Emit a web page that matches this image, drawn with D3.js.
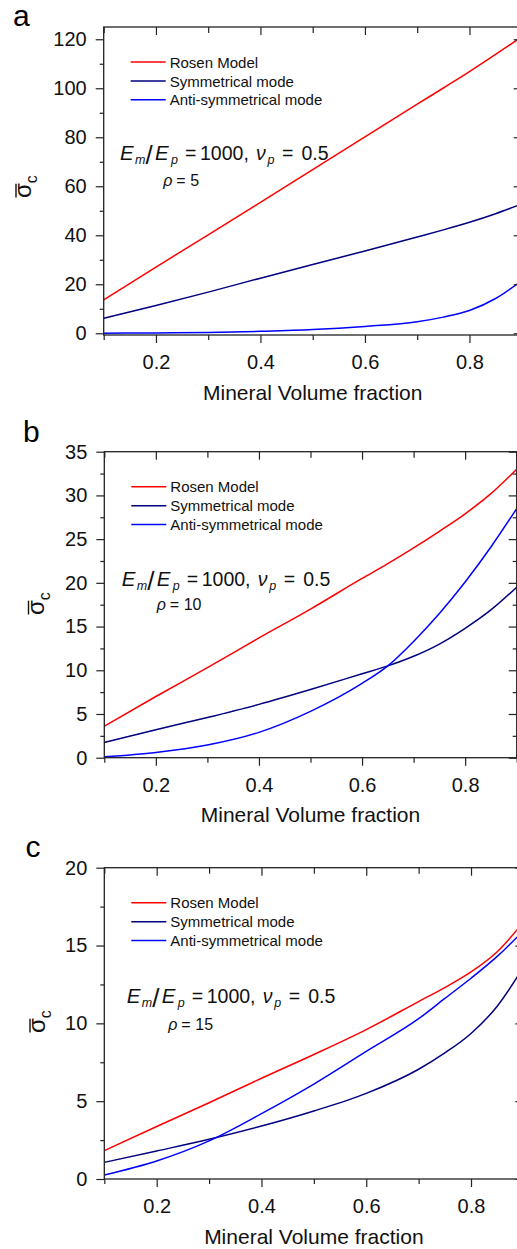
<!DOCTYPE html>
<html>
<head>
<meta charset="utf-8">
<script src="https://cdn.jsdelivr.net/npm/d3@7"></script>
<style>
  html, body { margin: 0; padding: 0; background: #fff; }
  svg { display: block; font-family: "Liberation Sans", Arial, Helvetica, sans-serif; }
</style>
</head>
<body>
<svg id="fig" width="517" height="1249"></svg>
<script>
// Normalised critical stress vs. mineral volume fraction, three aspect ratios (rho = 5, 10, 15)

const seriesNames  = ["Rosen Model", "Symmetrical mode", "Anti-symmetrical mode"];
const seriesColors = ["#ff0000", "#000080", "#0000ff"];

// panel a : rho = 5
const fractionA = [0.1, 0.2, 0.3, 0.4, 0.5, 0.6, 0.7, 0.75, 0.8, 0.85, 0.9];
const rosenA    = [13.6, 27.0, 40.2, 53.4, 66.8, 80.2, 93.5, 100.1, 106.8, 113.8, 121.0];
const symA      = [6.1, 11.3, 16.8, 22.5, 28.1, 33.6, 39.3, 42.2, 45.3, 48.8, 52.8];
const antiA     = [0.05, 0.15, 0.35, 0.8, 1.5, 2.8, 4.7, 6.6, 9.3, 14.2, 21.5];

// panel b : rho = 10
const fractionB = [0.1, 0.2, 0.3, 0.4, 0.5, 0.6, 0.65, 0.7, 0.75, 0.8, 0.85, 0.9];
const rosenB    = [3.6, 7.0, 10.3, 13.7, 17.0, 20.5, 22.2, 24.0, 25.9, 27.9, 30.2, 33.0];
const symB      = [1.75, 3.2, 4.6, 6.1, 7.8, 9.6, 10.5, 11.6, 13.0, 14.8, 16.9, 19.5];
const antiB     = [0.1, 0.6, 1.45, 2.9, 5.3, 8.5, 10.5, 13.3, 16.5, 20.1, 24.1, 28.5];

// panel c : rho = 15
const fractionC = [0.1, 0.2, 0.3, 0.4, 0.5, 0.6, 0.7, 0.75, 0.8, 0.85, 0.9];
const rosenC    = [1.82, 3.37, 4.9, 6.47, 8.0, 9.6, 11.4, 12.3, 13.3, 14.6, 16.5];
const symC      = [1.07, 1.8, 2.55, 3.4, 4.37, 5.5, 7.05, 8.1, 9.35, 11.1, 13.6];
const antiC     = [0.26, 1.16, 2.45, 4.2, 6.1, 8.2, 10.3, 11.6, 12.9, 14.3, 15.95];

// tick values
const xMajorTicks = [0.2, 0.4, 0.6, 0.8];
const xMinorTicks = [0.1, 0.3, 0.5, 0.7, 0.9];
const yMajorA = [0, 20, 40, 60, 80, 100, 120];
const yMinorA = [10, 30, 50, 70, 90, 110];
const yMajorB = [0, 5, 10, 15, 20, 25, 30, 35];
const yMinorB = [2.5, 7.5, 12.5, 17.5, 22.5, 27.5, 32.5];
const yMajorC = [0, 5, 10, 15, 20];
const yMinorC = [2.5, 7.5, 12.5, 17.5];

const panelLabels = ["a", "b", "c"];
const rhoValues   = ["5", "10", "15"];
const xTitle = "Mineral Volume fraction";

// page layout of the three stacked panels
const layout = [
  { box: { left: 103.7, right: 521.7, top: 27,    bottom: 335  }, yDomain: [-0.7, 125],
    tag: [13, 26],    ann: [120, 160],   rho: [163.3, 185.5], ylab: [31, 198] },
  { box: { left: 104.3, right: 516.7, top: 451.7, bottom: 757.7 }, yDomain: [0, 35],
    tag: [23, 442],   ann: [121.7, 586], rho: [156.7, 609.5], ylab: [43.5, 615] },
  { box: { left: 104.3, right: 523.4, top: 867.7, bottom: 1179 }, yDomain: [0, 20],
    tag: [25.5, 857], ann: [126.7, 1002.7], rho: [168.3, 1030], ylab: [45, 1033] }
];

const panelData = [
  { x: fractionA, ys: [rosenA, symA, antiA], yMajor: yMajorA, yMinor: yMinorA },
  { x: fractionB, ys: [rosenB, symB, antiB], yMajor: yMajorB, yMinor: yMinorB },
  { x: fractionC, ys: [rosenC, symC, antiC], yMajor: yMajorC, yMinor: yMinorC }
];

const AXIS = "#222";
const INK = "#111";
const svg = d3.select("#fig");

function styleAxis(sel, fontSize) {
  sel.attr("font-family", null).attr("font-size", fontSize);
  sel.select(".domain").remove();
  sel.selectAll(".tick line").attr("stroke", AXIS).attr("stroke-width", 1.2);
  sel.selectAll(".tick text").attr("fill", INK);
}

function drawAnnotation(g, x0, y0) {
  // E_m / E_p = 1000,  nu_p =  0.5
  const parts = [
    [0,     0, 20.5, true,  "E"],
    [15,    4, 12.5, true,  "m"],
    [25.5,  4, 26,   false, "/"],
    [35,    0, 20.5, true,  "E"],
    [51,    4, 12.5, true,  "p"],
    [65,    0, 19.5, false, "="],
    [80,    0, 19.5, false, "1000,"],
    [136,   0, 19.5, true,  "\u03BD"],
    [147.5, 4, 12.5, true,  "p"],
    [162,   0, 19.5, false, "="],
    [181.5, 0, 19.5, false, "0.5"]
  ];
  const t = g.append("text").attr("fill", INK);
  parts.forEach(([dx, dy, fs, it, s]) => {
    t.append("tspan")
      .attr("x", x0 + dx).attr("y", y0 + dy)
      .attr("font-size", fs)
      .attr("font-style", it ? "italic" : "normal")
      .text(s);
  });
}

function drawRho(g, x0, y0, val) {
  const t = g.append("text").attr("fill", INK).attr("font-size", 16);
  t.append("tspan").attr("x", x0).attr("y", y0).attr("font-style", "italic").text("\u03C1");
  t.append("tspan").attr("x", x0 + 13).attr("y", y0).text("=");
  t.append("tspan").attr("x", x0 + 27).attr("y", y0).text(val);
}

function drawYLabel(g, x0, y0) {
  const lg = g.append("g").attr("transform", `translate(${x0},${y0}) rotate(-90)`);
  const t = lg.append("text").attr("fill", INK);
  const sig = t.append("tspan").attr("font-size", 24).text("\u03C3");
  t.append("tspan").attr("font-size", 16).attr("dy", 6).text("c");
  const w = sig.node().getComputedTextLength();
  lg.append("line")
    .attr("x1", 0.5).attr("x2", w - 0.5)
    .attr("y1", -15).attr("y2", -15)
    .attr("stroke", INK).attr("stroke-width", 1.4);
}

panelData.forEach((pd, i) => {
  const L = layout[i];
  const b = L.box;
  const g = svg.append("g");

  const x = d3.scaleLinear().domain([0.1, 0.9]).range([b.left, b.right]);
  const y = d3.scaleLinear().domain(L.yDomain).range([b.bottom, b.top]);

  // curves
  const line = d3.line()
    .x(d => x(d[0]))
    .y(d => y(d[1]))
    .curve(d3.curveMonotoneX);
  pd.ys.forEach((vals, k) => {
    g.append("path")
      .datum(pd.x.map((v, j) => [v, vals[j]]))
      .attr("d", line)
      .attr("fill", "none")
      .attr("stroke", seriesColors[k])
      .attr("stroke-width", 1.5);
  });

  // bottom axis
  g.append("g").attr("transform", `translate(0,${b.bottom})`)
    .call(d3.axisBottom(x).tickValues(xMajorTicks).tickSize(8).tickPadding(12).tickFormat(d3.format(".1f")))
    .call(s => styleAxis(s, 20));
  g.append("g").attr("transform", `translate(0,${b.bottom})`)
    .call(d3.axisBottom(x).tickValues(xMinorTicks).tickSize(5).tickFormat(""))
    .call(s => styleAxis(s, 20));
  // top axis, ticks pointing in
  g.append("g").attr("transform", `translate(0,${b.top})`)
    .call(d3.axisTop(x).tickValues(xMajorTicks).tickSize(-8).tickFormat(""))
    .call(s => styleAxis(s, 20));
  g.append("g").attr("transform", `translate(0,${b.top})`)
    .call(d3.axisTop(x).tickValues(xMinorTicks).tickSize(-6).tickFormat(""))
    .call(s => styleAxis(s, 20));

  // left axis
  g.append("g").attr("transform", `translate(${b.left},0)`)
    .call(d3.axisLeft(y).tickValues(pd.yMajor).tickSize(8).tickPadding(9).tickFormat(d3.format("d")))
    .call(s => styleAxis(s, 20));
  g.append("g").attr("transform", `translate(${b.left},0)`)
    .call(d3.axisLeft(y).tickValues(pd.yMinor).tickSize(4).tickFormat(""))
    .call(s => styleAxis(s, 20));
  // right axis, ticks pointing in
  g.append("g").attr("transform", `translate(${b.right},0)`)
    .call(d3.axisRight(y).tickValues(pd.yMajor).tickSize(-8).tickFormat(""))
    .call(s => styleAxis(s, 20));
  g.append("g").attr("transform", `translate(${b.right},0)`)
    .call(d3.axisRight(y).tickValues(pd.yMinor).tickSize(-4).tickFormat(""))
    .call(s => styleAxis(s, 20));

  // frame
  g.append("rect")
    .attr("x", b.left).attr("y", b.top)
    .attr("width", b.right - b.left).attr("height", b.bottom - b.top)
    .attr("fill", "none").attr("stroke", AXIS).attr("stroke-width", 1.3);

  // legend
  const rows = [35, 54, 72.7];
  seriesNames.forEach((name, k) => {
    const ly = b.top + rows[k];
    g.append("line")
      .attr("x1", b.left + 27).attr("x2", b.left + 62)
      .attr("y1", ly).attr("y2", ly)
      .attr("stroke", seriesColors[k]).attr("stroke-width", 1.5);
    g.append("text")
      .attr("x", b.left + 66).attr("y", ly + 5.5)
      .attr("font-size", 15).attr("fill", INK)
      .text(name);
  });

  drawAnnotation(g, L.ann[0], L.ann[1]);
  drawRho(g, L.rho[0], L.rho[1], rhoValues[i]);

  // axis titles
  g.append("text")
    .attr("x", (b.left + b.right) / 2).attr("y", b.bottom + 64.5)
    .attr("text-anchor", "middle").attr("font-size", 21).attr("fill", INK)
    .text(xTitle);
  drawYLabel(g, L.ylab[0], L.ylab[1]);

  // panel tag
  g.append("text")
    .attr("x", L.tag[0]).attr("y", L.tag[1])
    .attr("font-size", 30).attr("fill", "#000")
    .text(panelLabels[i]);
});
</script>
</body>
</html>
